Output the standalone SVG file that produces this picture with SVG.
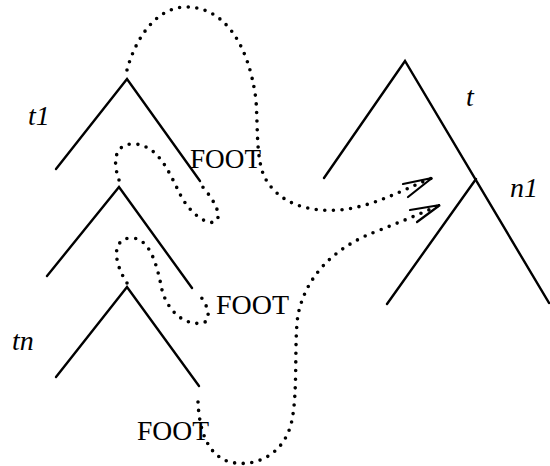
<svg xmlns="http://www.w3.org/2000/svg" width="550" height="466" viewBox="0 0 550 466">
<defs>
<style>
.tree{fill:none;stroke:#000;stroke-width:2.4;stroke-linecap:round;stroke-linejoin:miter}
.dot{fill:none;stroke:#000;stroke-width:3.6;stroke-linecap:round;stroke-dasharray:0 8.6}
.lbl{font-family:"Liberation Serif","Times New Roman",serif;font-style:italic;font-size:28px;fill:#000}
.foot{font-family:"Liberation Serif","Times New Roman",serif;font-size:28px;fill:#000}
.head{fill:none;stroke:#000;stroke-width:2.2;stroke-linecap:round;stroke-linejoin:miter}
</style>
</defs>
<rect width="550" height="466" fill="#fff"/>
<g id="tree-t1">
<polyline class="tree" points="56,169 127,79 200,181"/>
<text class="lbl" x="28" y="125">t1</text>
<text class="foot" x="190" y="168" textLength="71" lengthAdjust="spacingAndGlyphs">FOOT</text>
</g>
<g id="tree-mid">
<polyline class="tree" points="47,276 119,187 192,288"/>
<text class="foot" x="216" y="314" textLength="73" lengthAdjust="spacingAndGlyphs">FOOT</text>
</g>
<g id="tree-tn">
<polyline class="tree" points="56,377 127,287 199,386"/>
<text class="lbl" x="12" y="350">tn</text>
<text class="foot" x="137" y="440" textLength="72" lengthAdjust="spacingAndGlyphs">FOOT</text>
</g>
<g id="tree-t">
<polyline class="tree" points="324,178 405,61 549,303"/>
<text class="lbl" x="466" y="106">t</text>
</g>
<g id="subtree-n1">
<line class="tree" x1="476" y1="179" x2="387" y2="304"/>
<text class="lbl" x="510" y="197">n1</text>
</g>
<g id="connectors">
<path class="dot" d="M127,70 C135,40 155,8 185,7 C220,6 248,38 256,100 C258,130 256,160 265,178 C280,205 310,212 340,210 C375,206 400,191 432,178"/>
<path class="dot" d="M198,402 C199,425 205,455 230,462 C255,468 285,455 292,420 C298,390 294,340 298,315 C305,280 330,248 380,230 C400,222 420,214 440,205"/>
<path class="dot" d="M119,180 C112,160 115,143 135,144 C160,146 170,175 182,198 C192,215 210,228 217,220 C222,212 210,195 201,185"/>
<path class="dot" d="M127,283 C115,265 110,240 130,238 C150,237 157,265 162,290 C168,312 185,326 203,323 C212,320 208,305 200,296"/>
<path class="head" d="M403,184 L432,178 L408,197"/>
<path class="head" d="M410,210 L440,205 L417,222"/>
</g>
</svg>
